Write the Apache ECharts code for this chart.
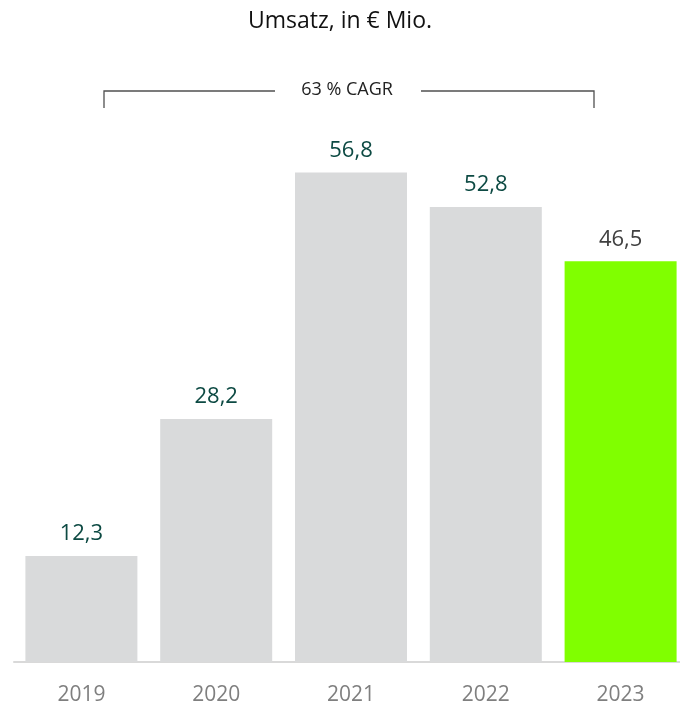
<!DOCTYPE html>
<html><head><meta charset="utf-8">
<script src="https://cdn.jsdelivr.net/npm/echarts@6/dist/echarts.min.js"></script>
<style>html,body{margin:0;padding:0;background:#fff}#c{width:680px;height:707px}</style>
</head><body><div id="c"></div>
<script>
const categories = ['2019','2020','2021','2022','2023'];
const values = [12.3, 28.2, 56.8, 52.8, 46.5];
const labelTexts = ['12,3','28,2','56,8','52,8','46,5'];
const titleText = 'Umsatz, in € Mio.';
const cagrText = '63 % CAGR';

const font = '"Open Sans", sans-serif';
const chart = echarts.init(document.getElementById('c'));
const data = values.map((v, i) => {
  const last = i === values.length - 1;
  return {
    value: v,
    itemStyle: { color: last ? '#80FF00' : '#D9DADB' },
    label: { color: last ? '#404040' : '#0D4A43' }
  };
});
chart.setOption({
  animation: false,
  title: { text: titleText, left: 'center', top: 5,
    textStyle: { fontFamily: font, fontSize: 23, fontWeight: 'normal', color: '#111' } },
  grid: { left: 14, right: -8, top: 145, bottom: 45, outerBoundsMode: 'none', containLabel: false },
  xAxis: { type: 'category', data: categories,
    axisLine: { lineStyle: { color: '#D9D9D9', width: 2 } },
    axisTick: { show: false },
    axisLabel: { fontFamily: font, fontSize: 21, color: '#7F7F7F', margin: 23 } },
  yAxis: { type: 'value', min: 0, max: 60, show: false, splitLine: { show: false } },
  series: [{
    type: 'bar', data: data, barWidth: 112,
    label: { show: true, position: 'top', distance: 11, fontFamily: font, fontSize: 22,
      formatter: p => labelTexts[p.dataIndex] }
  }],
  graphic: [
    { type: 'polyline', shape: { points: [[104,108],[104,91],[275,91]] }, style: { stroke: '#505050', lineWidth: 1.3, fill: null } },
    { type: 'polyline', shape: { points: [[421,91],[594,91],[594,108]] }, style: { stroke: '#505050', lineWidth: 1.3, fill: null } },
    { type: 'text', x: 347, y: 90, style: { text: cagrText, fontFamily: font, fontSize: 18, fill: '#222', textAlign: 'center', textVerticalAlign: 'middle' } }
  ]
});
</script></body></html>
